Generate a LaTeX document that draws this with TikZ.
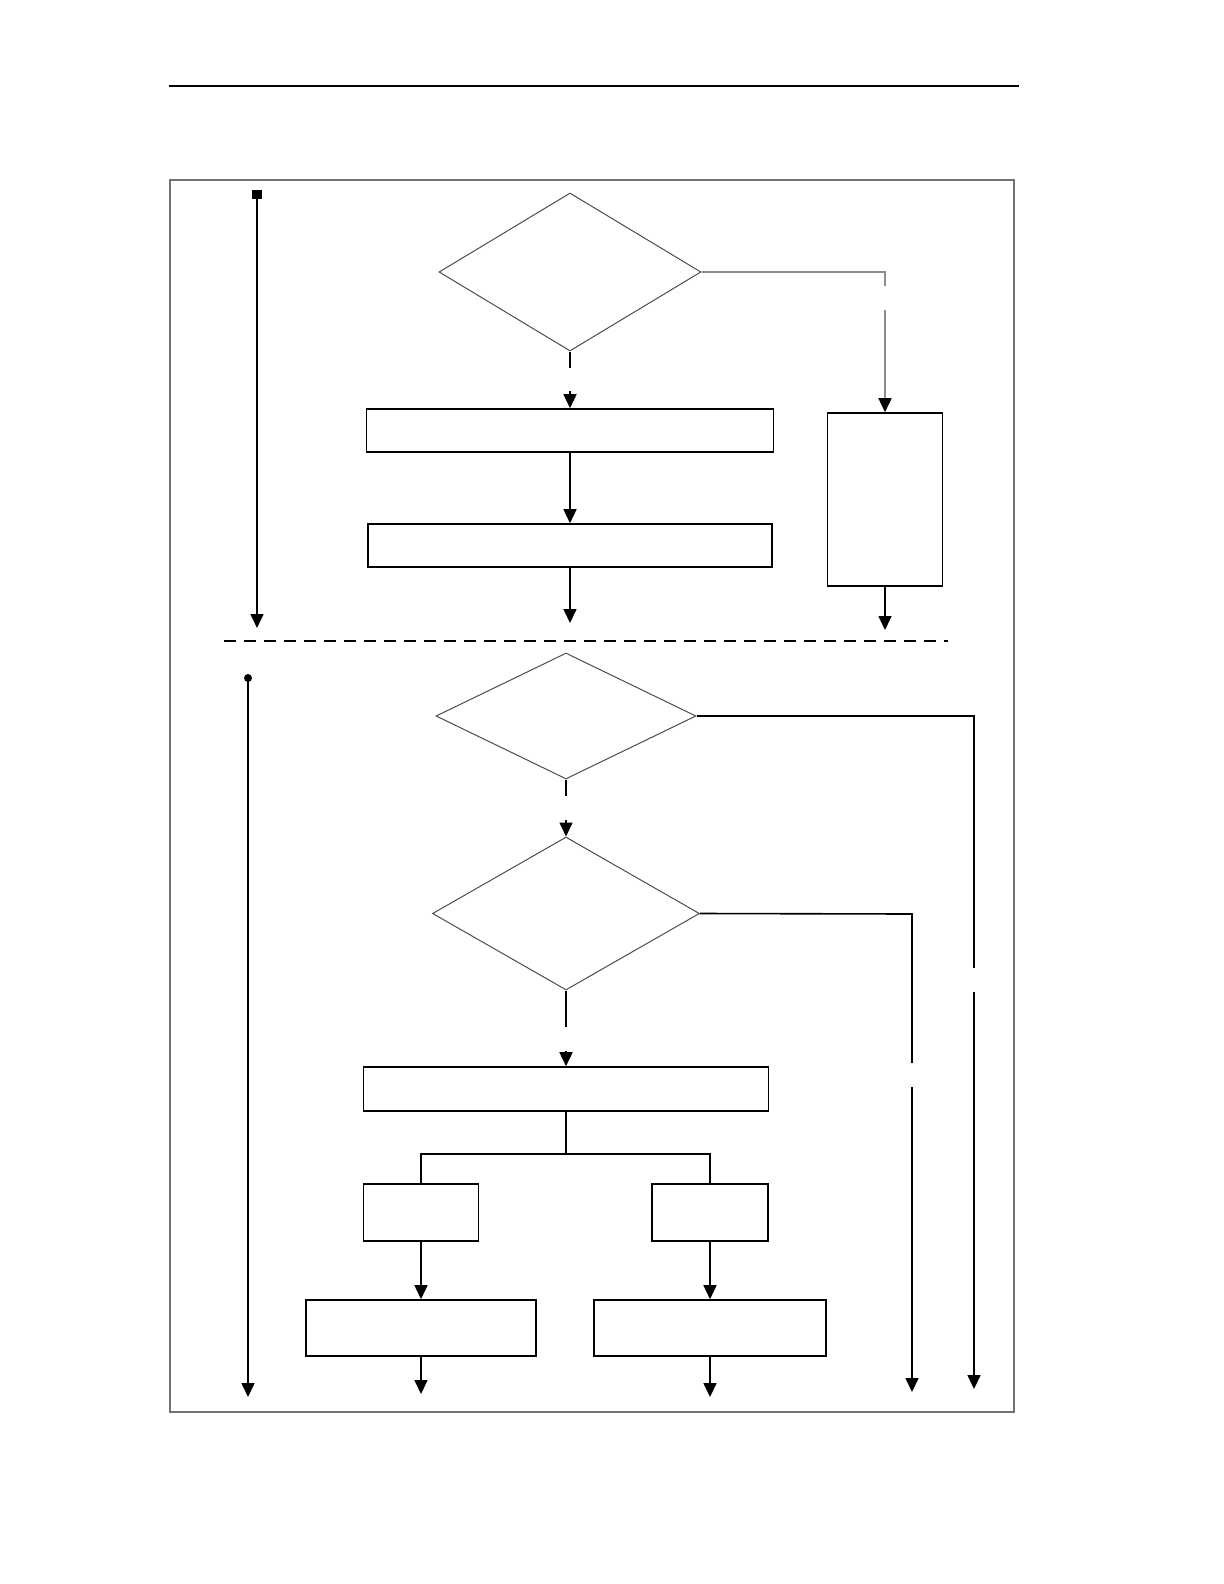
\documentclass[tikz,border=0pt]{standalone}
\usetikzlibrary{arrows.meta,shapes.geometric}

\begin{document}
\begin{tikzpicture}[x=0.5pt,y=-0.5pt,line width=0.8pt,>={Triangle[length=7pt,width=6.5pt]},
  caja/.style={draw,rectangle,inner sep=0pt},
  rombo/.style={draw=black!70,line width=0.5pt,diamond,inner sep=0pt},
  flecha/.style={->}]
  \useasboundingbox (0,0) rectangle (1224,1584);
  % cabecera y marco
  \draw[line width=1.2pt] (169,86) -- (1019,86);
  \draw[black!55,line width=0.8pt] (170,180) rectangle (1014,1412);
  % parte superior
  \node[rombo,minimum width=131pt,minimum height=79pt] (D1) at (570,272) {};
  \node[caja,minimum width=203.5pt,minimum height=21.5pt] (B1) at (570,430.5) {};
  \node[caja,minimum width=202pt,minimum height=21.5pt] (B2) at (570,545.5) {};
  \node[caja,minimum width=57.5pt,minimum height=86.5pt] (B3) at (885,499.5) {};
  \coordinate (G1) at (570,368); \coordinate (G2) at (570,391);
  \coordinate (K1) at (885,272); \coordinate (K2) at (885,286); \coordinate (K3) at (885,310);
  \coordinate (E1) at (257,628); \coordinate (E2) at (570,623); \coordinate (E3) at (885,630);
  \fill (252,190) rectangle (262,199);
  \draw[flecha] (257,199) -- (E1);
  \draw (D1.south) -- (G1);
  \draw[flecha] (G2) -- (B1.north);
  \draw[flecha] (B1) -- (B2);
  \draw[flecha] (B2.south) -- (E2);
  \draw[black!45] (D1.east) -- (K1) -- (K2);
  \draw[black!45,-{Triangle[length=7pt,width=6.5pt,color=black]}] (K3) -- (B3.north);
  \draw[flecha] (B3.south) -- (E3);
  % separacion
  \draw[dash pattern=on 6pt off 4pt,line width=0.8pt] (224,641) -- (948,641);
  % parte inferior
  \node[rombo,minimum width=130pt,minimum height=63pt] (D2) at (566,716) {};
  \node[rombo,minimum width=133.5pt,minimum height=76.5pt] (D3) at (566,913.5) {};
  \node[caja,minimum width=202.5pt,minimum height=22pt] (B4) at (566,1089) {};
  \node[caja,minimum width=57.5pt,minimum height=28.5pt] (B5) at (421,1212.5) {};
  \node[caja,minimum width=58pt,minimum height=28.5pt] (B6) at (710,1212.5) {};
  \node[caja,minimum width=115pt,minimum height=28pt] (B7) at (421,1328) {};
  \node[caja,minimum width=116pt,minimum height=28pt] (B8) at (710,1328) {};
  \coordinate (G3) at (566,796); \coordinate (G4) at (566,820);
  \coordinate (G5) at (566,1027); \coordinate (G6) at (566,1051);
  \coordinate (R1) at (974,716); \coordinate (R2) at (974,968); \coordinate (R3) at (974,992);
  \coordinate (S1) at (912,914); \coordinate (S2) at (912,1063); \coordinate (S3) at (912,1087);
  \coordinate (H) at (566,1154);
  \coordinate (F1) at (421,1394); \coordinate (F2) at (710,1397);
  \fill (248,678) circle (4);
  \draw[flecha] (248,678) -- (248,1397);
  \draw (D2.south) -- (G3);
  \draw[flecha] (G4) -- (D3.north);
  \draw (D3.south) -- (G5);
  \draw[flecha] (G6) -- (B4.north);
  \draw (B4.south) -- (H);
  \draw (B5.north) |- (H) -| (B6.north);
  \draw[flecha] (B5) -- (B7);
  \draw[flecha] (B6) -- (B8);
  \draw[flecha] (B7.south) -- (F1);
  \draw[flecha] (B8.south) -- (F2);
  \draw (D2.east) -- (R1) -- (R2);
  \draw[flecha] (R3) -- (974,1389);
  \draw (D3.east) -- (S1) -- (S2);
  \draw[flecha] (S3) -- (912,1392);
\end{tikzpicture}
\end{document}
